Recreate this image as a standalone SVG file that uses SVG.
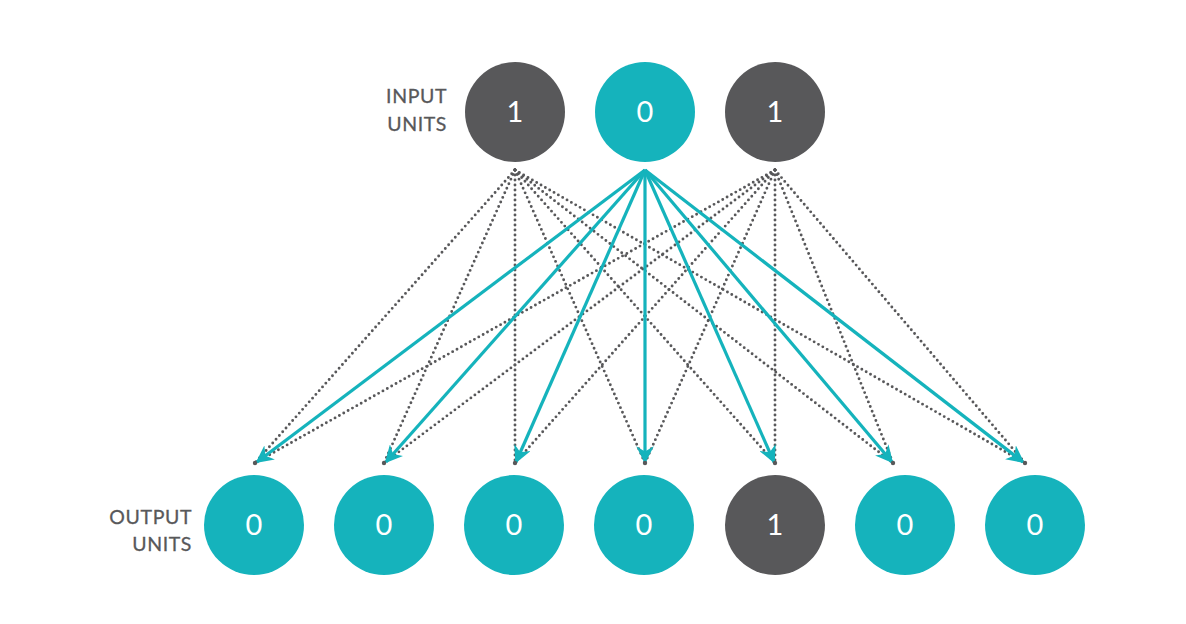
<svg xmlns="http://www.w3.org/2000/svg" width="1186" height="624" viewBox="0 0 1186 624">
<defs>
<style>
.teal{fill:#15b3bc}
.dark{fill:#58585a}
.num{font-family:Lato,"Liberation Sans",sans-serif;font-size:29px;fill:#fff;text-anchor:middle}
.lbl{font-family:Lato,"Liberation Sans",sans-serif;font-size:19.5px;fill:#58585a;text-anchor:end;letter-spacing:0.6px;stroke:#58585a;stroke-width:0.3}
.dot{fill:none;stroke:#58585a;stroke-width:2.9;stroke-linecap:round;stroke-dasharray:0 5}
.arr{fill:none;stroke:#15b3bc;stroke-width:3.2;marker-end:url(#ah)}
</style>
<marker id="ah" viewBox="0 0 10 10" refX="9" refY="5" markerWidth="5.5" markerHeight="5.5" markerUnits="strokeWidth" orient="auto">
<path d="M0,0 L10,5 L0,10 L3,5 Z" fill="#15b3bc"/>
</marker>
</defs>
<g id="connectors">
<g id="dotted-from-in1">
<path class="dot" d="M515,170 L255,463"/>
<path class="dot" d="M515,170 L384,463"/>
<path class="dot" d="M515,170 L515,463"/>
<path class="dot" d="M515,170 L645,463"/>
<path class="dot" d="M515,170 L775,463"/>
<path class="dot" d="M515,170 L893,463"/>
<path class="dot" d="M515,170 L1025,463"/>
</g>
<g id="dotted-from-in3">
<path class="dot" d="M775,170 L255,463"/>
<path class="dot" d="M775,170 L384,463"/>
<path class="dot" d="M775,170 L515,463"/>
<path class="dot" d="M775,170 L645,463"/>
<path class="dot" d="M775,170 L775,463"/>
<path class="dot" d="M775,170 L893,463"/>
<path class="dot" d="M775,170 L1025,463"/>
</g>
<g id="teal-from-in2">
<path class="arr" d="M645,170 L257,462"/>
<path class="arr" d="M645,170 L386,462"/>
<path class="arr" d="M645,170 L516,462"/>
<path class="arr" d="M645,170 L645,462"/>
<path class="arr" d="M645,170 L774,462"/>
<path class="arr" d="M645,170 L892,462"/>
<path class="arr" d="M645,170 L1023,462"/>
</g>
<g id="end-dots" fill="#58585a">
<circle cx="255" cy="463" r="2.2"/>
<circle cx="384" cy="463" r="2.2"/>
<circle cx="515" cy="463" r="2.2"/>
<circle cx="645" cy="463" r="2.2"/>
<circle cx="775" cy="463" r="2.2"/>
<circle cx="893" cy="463" r="2.2"/>
<circle cx="1025" cy="463" r="2.2"/>
</g>
</g>
<g id="input-label"><text class="lbl" x="447" y="103">INPUT</text><text class="lbl" x="447" y="131">UNITS</text></g>
<g id="output-label"><text class="lbl" x="192" y="524">OUTPUT</text><text class="lbl" x="192" y="551">UNITS</text></g>
<g id="in1"><circle class="dark" cx="515" cy="112" r="50"/><text class="num" x="515" y="122">1</text></g>
<g id="in2"><circle class="teal" cx="645" cy="112" r="50"/><text class="num" x="645" y="122">0</text></g>
<g id="in3"><circle class="dark" cx="775" cy="112" r="50"/><text class="num" x="775" y="122">1</text></g>
<g id="out1"><circle class="teal" cx="254" cy="525" r="50"/><text class="num" x="254" y="535">0</text></g>
<g id="out2"><circle class="teal" cx="384" cy="525" r="50"/><text class="num" x="384" y="535">0</text></g>
<g id="out3"><circle class="teal" cx="514" cy="525" r="50"/><text class="num" x="514" y="535">0</text></g>
<g id="out4"><circle class="teal" cx="644" cy="525" r="50"/><text class="num" x="644" y="535">0</text></g>
<g id="out5"><circle class="dark" cx="775" cy="525" r="50"/><text class="num" x="775" y="535">1</text></g>
<g id="out6"><circle class="teal" cx="905" cy="525" r="50"/><text class="num" x="905" y="535">0</text></g>
<g id="out7"><circle class="teal" cx="1035" cy="525" r="50"/><text class="num" x="1035" y="535">0</text></g>
</svg>
